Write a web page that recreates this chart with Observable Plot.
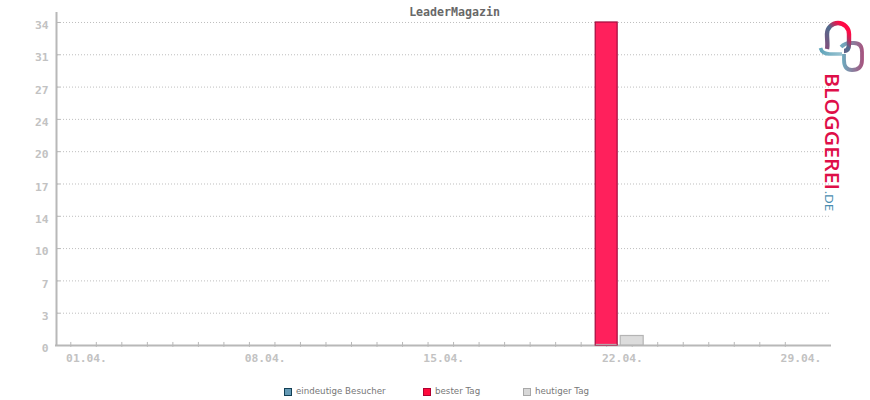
<!DOCTYPE html>
<html><head><meta charset="utf-8">
<script src="https://cdn.jsdelivr.net/npm/d3@7"></script>
<script src="https://cdn.jsdelivr.net/npm/@observablehq/plot@0.6"></script>
<style>
html,body{margin:0;padding:0;background:#fff;width:870px;height:400px;overflow:hidden}
#wrap{position:relative;width:870px;height:400px}
#title{position:absolute;left:0;width:909px;top:5px;text-align:center;font:bold 11.6px "DejaVu Sans Mono",monospace;color:#686868;line-height:14px}
#legend{position:absolute;left:0;top:384px;width:870px;height:14px;font:8.7px "DejaVu Sans",sans-serif;color:#777}
#legend .it{position:absolute;top:0;white-space:nowrap;line-height:15px}
#legend i{position:absolute;left:0;top:4px;width:6px;height:6px;border:1px solid}
#legend span{position:absolute;left:12px;top:0}
#logo{position:absolute;left:790px;top:0}
#chart svg{display:block}
</style></head><body><div id="wrap">
<div id="title"></div><div id="chart"></div><div id="legend"></div>
<svg id="logo" width="80" height="220" viewBox="790 0 80 220">
<defs>
<linearGradient id="g1" gradientUnits="userSpaceOnUse" x1="824" y1="50" x2="850" y2="26"><stop offset="0" stop-color="#8a4a78"/><stop offset=".55" stop-color="#4f6c8e"/><stop offset=".72" stop-color="#c02a5c"/><stop offset=".85" stop-color="#ff0a45"/></linearGradient>
<linearGradient id="g2" gradientUnits="userSpaceOnUse" x1="843" y1="60" x2="864" y2="60"><stop offset="0" stop-color="#6fa8bc"/><stop offset="1" stop-color="#a8507c"/></linearGradient>
<linearGradient id="g4" gradientUnits="userSpaceOnUse" x1="820" y1="50" x2="843" y2="52"><stop offset="0" stop-color="#5fa4ba"/><stop offset="1" stop-color="#9cc4d2"/></linearGradient>
<linearGradient id="g3" gradientUnits="userSpaceOnUse" x1="832" y1="74" x2="832" y2="190"><stop offset="0" stop-color="#de0f48"/><stop offset=".55" stop-color="#9a4272"/><stop offset="1" stop-color="#48688e"/></linearGradient>
</defs>
<path d="M841 47 Q845 43 850 43 L854 43 Q862 43 862 52 L862 60 Q862 70 852 70 Q844 70 844 60 L844 54" fill="none" stroke="url(#g2)" stroke-width="3.8"/>
<path d="M827 49 C828 45 827 40 827 34 A11 11 0 0 1 849 34 L849 44 C849 49 847 51 844 51" fill="none" stroke="url(#g1)" stroke-width="4.4"/>
<path d="M820.5 48 Q822 54 830 54 L842 54" fill="none" stroke="url(#g4)" stroke-width="3.6"/>
<text transform="translate(825,73) rotate(90)" font-family="'Open Sans',Lato,sans-serif" font-size="19.5" font-weight="600" fill="url(#g3)" textLength="117" lengthAdjust="spacingAndGlyphs">BLOGGEREI</text>
<text transform="translate(825,191) rotate(90)" font-family="Lato,'Open Sans',sans-serif" font-size="11" fill="#4a8db0" textLength="20" lengthAdjust="spacingAndGlyphs">.DE</text>
</svg>
</div>
<script>
const chartTitle = "LeaderMagazin";
const days = d3.range(1, 30);
const labelDays = [1, 8, 15, 22, 29];
const yTicks = [34, 30.6, 27.2, 23.8, 20.4, 17, 13.6, 10.2, 6.8, 3.4, 0];
const bestDay = [22];
const bestValue = [34];
const todayDay = [23];
const todayValue = [1];
const legendLabels = ["eindeutige Besucher", "bester Tag", "heutiger Tag"];
const legendFill = ["#659ab5", "#ff0a3c", "#d8d8d8"];
const legendStroke = ["#123f55", "#b00030", "#a8a8a8"];
const legendLeft = [284, 423, 523];

const gray = "#b8b8b8";
const xMin = 0.44, xMax = 30.81, yMax = 35.05;
const pad = d => String(d).padStart(2, "0") + ".04.";

document.getElementById("title").textContent = chartTitle;

const plot = Plot.plot({
  width: 870, height: 375,
  marginLeft: 56, marginRight: 39, marginTop: 12, marginBottom: 30,
  style: {background: "#fff", overflow: "visible"},
  x: {type: "linear", domain: [xMin, xMax], axis: null},
  y: {domain: [0, yMax], axis: null},
  marks: [
    Plot.ruleY(yTicks.filter(d => d > 0), {x1: xMin + 0.04, x2: xMax - 0.04, stroke: "#bdbdbd", strokeWidth: 1, strokeDasharray: "1,2"}),
    Plot.ruleY(yTicks.filter(d => d > 0), {x1: xMin, x2: xMin + 0.16, stroke: gray, strokeWidth: 1}),
    Plot.ruleX(days, {y1: -0.2, y2: 0.32, stroke: gray, strokeWidth: 1}),
    Plot.ruleY([0], {x1: xMin - 0.04, x2: xMax, stroke: gray, strokeWidth: 2}),
    Plot.ruleX([xMin], {y1: -0.1, y2: yMax, stroke: gray, strokeWidth: 2}),
    Plot.rectY(bestDay.map((d, i) => ({d, v: bestValue[i]})), {x1: d => d.d - 0.43, x2: d => d.d + 0.43, y1: 0, y2: "v", fill: "#ff205c", stroke: "#a20c3e", strokeWidth: 1.2}),
    Plot.ruleY([0.12], {x1: bestDay[0] - 0.41, x2: bestDay[0] + 0.41, stroke: gray, strokeWidth: 1}),
    Plot.rectY(todayDay.map((d, i) => ({d, v: todayValue[i]})), {x1: d => d.d - 0.45, x2: d => d.d + 0.45, y1: 0, y2: "v", fill: "#dcdcdc", stroke: "#b4b4b4", strokeWidth: 1.2}),
    Plot.axisY(yTicks, {anchor: "left", tickSize: 0, tickPadding: 8, dy: 3, tickFormat: d => String(Math.round(d)), fontSize: 11.3, fontWeight: "bold", fontFamily: "DejaVu Sans Mono, monospace", fill: "#c2c2c2", label: null}),
    Plot.axisX(labelDays, {anchor: "bottom", tickSize: 0, tickPadding: 8, dx: 15.7, tickFormat: pad, fontSize: 11.3, fontWeight: "bold", fontFamily: "DejaVu Sans Mono, monospace", fill: "#c2c2c2", label: null})
  ]
});
document.getElementById("chart").appendChild(plot);

const legend = document.getElementById("legend");
legendLabels.forEach((t, i) => {
  const it = document.createElement("div");
  it.className = "it";
  it.style.left = legendLeft[i] + "px";
  const sw = document.createElement("i");
  sw.style.background = legendFill[i];
  sw.style.borderColor = legendStroke[i];
  const s = document.createElement("span");
  s.textContent = t;
  it.append(sw, s);
  legend.appendChild(it);
});
</script></body></html>
